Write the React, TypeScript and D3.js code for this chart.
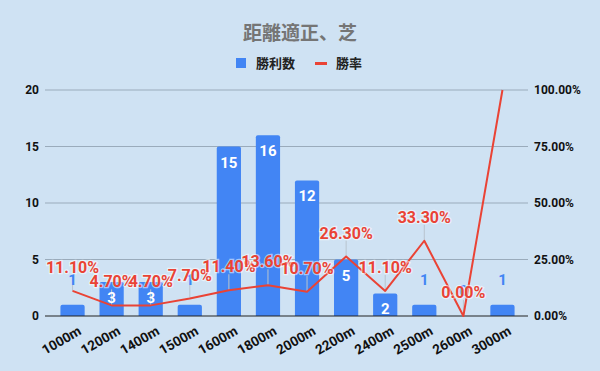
import * as d3 from 'd3';

const categories = ['1000m', '1200m', '1400m', '1500m', '1600m', '1800m', '2000m', '2200m', '2400m', '2500m', '2600m', '3000m'];
const wins = [1, 3, 3, 1, 15, 16, 12, 5, 2, 1, 0, 1];
const winRate = [11.1, 4.7, 4.7, 7.7, 11.4, 13.6, 10.7, 26.3, 11.1, 33.3, 0, 100];
const leftTicks = [0, 5, 10, 15, 20];
const rightTicks = [0, 25, 50, 75, 100];

const W = 600;
const H = 371;
const BLUE = '#4285f4';
const RED = '#ea4335';
const NUM_FONT = 'Roboto, "Noto Sans CJK JP", sans-serif';
const CJK_FONT = '"Noto Sans CJK JP", Roboto, sans-serif';

export default function App() {
  const x = d3
    .scaleBand<string>()
    .domain(categories)
    .range([53, 522])
    .paddingInner(0.38)
    .paddingOuter(0.19);
  const yL = d3.scaleLinear().domain([0, 20]).range([316, 90]);
  const yR = d3.scaleLinear().domain([0, 100]).range([316, 90]);
  const cx = (c: string) => (x(c) as number) + x.bandwidth() / 2;

  const line = d3
    .line<number>()
    .x((_, i) => cx(categories[i]))
    .y((d) => yR(d));

  // rounded top corners only
  const barPath = (c: string, v: number) => {
    const x0 = x(c) as number;
    const w = x.bandwidth();
    const top = yL(v);
    const bot = yL(0);
    const r = Math.min(2, (bot - top) / 2);
    const p = d3.path();
    p.moveTo(x0, bot);
    p.lineTo(x0, top + r);
    p.quadraticCurveTo(x0, top, x0 + r, top);
    p.lineTo(x0 + w - r, top);
    p.quadraticCurveTo(x0 + w, top, x0 + w, top + r);
    p.lineTo(x0 + w, bot);
    p.closePath();
    return p.toString();
  };

  return (
    <svg
      width={W}
      height={H}
      style={{ position: 'absolute', left: 0, top: 0, display: 'block' }}
    >
      <rect width={W} height={H} fill="#cfe2f3" />

      {/* title */}
      <text
        x={300}
        y={40}
        textAnchor="middle"
        fontFamily={CJK_FONT}
        fontWeight="bold"
        fontSize={19}
        fill="#757575"
      >
        距離適正、芝
      </text>

      {/* legend */}
      <rect x={236} y={58} width={10} height={10} fill={BLUE} />
      <text x={256} y={68} fontFamily={CJK_FONT} fontSize={13} fontWeight="bold" fill="#222">
        勝利数
      </text>
      <rect x={315} y={62} width={12} height={3} fill={RED} />
      <text x={336} y={68} fontFamily={CJK_FONT} fontSize={13} fontWeight="bold" fill="#222">
        勝率
      </text>

      {/* grid */}
      {leftTicks.slice(1).map((t) => (
        <line key={t} x1={45} x2={528} y1={yL(t)} y2={yL(t)} stroke="#9aabbb" strokeWidth={1} />
      ))}

      {/* left axis labels */}
      {leftTicks.map((t) => (
        <text
          key={t}
          x={39}
          y={yL(t)}
          dy="0.35em"
          textAnchor="end"
          fontFamily={NUM_FONT}
          fontWeight="bold"
          fontSize={12}
          fill="#111"
        >
          {t}
        </text>
      ))}

      {/* right axis labels */}
      {rightTicks.map((t) => (
        <text
          key={t}
          x={534}
          y={yR(t)}
          dy="0.35em"
          fontFamily={NUM_FONT}
          fontWeight="bold"
          fontSize={12}
          fill="#111"
        >
          {t.toFixed(2)}%
        </text>
      ))}

      {/* bars */}
      {categories.map((c, i) =>
        wins[i] > 0 ? <path key={c} d={barPath(c, wins[i])} fill={BLUE} /> : null
      )}

      {/* baseline */}
      <line x1={45} x2={528} y1={yL(0)} y2={yL(0)} stroke="#222" strokeWidth={1.2} />

      {/* leader lines for rate labels */}
      {categories.map((c, i) =>
        winRate[i] < 100 ? (
          <line
            key={c}
            x1={cx(c)}
            x2={cx(c)}
            y1={yR(winRate[i]) - 16}
            y2={yR(winRate[i])}
            stroke="#b8c4ce"
            strokeWidth={1}
          />
        ) : null
      )}

      {/* bar labels */}
      {categories.map((c, i) => {
        const v = wins[i];
        const inside = v >= 2;
        return (
          <text
            key={c}
            x={cx(c)}
            y={inside ? yL(v) + 21 : yL(v) - 20}
            textAnchor="middle"
            fontFamily={NUM_FONT}
            fontWeight="bold"
            fontSize={15}
            fill={inside ? '#fff' : BLUE}
          >
            {v}
          </text>
        );
      })}

      {/* win rate line */}
      <path d={line(winRate) as string} fill="none" stroke={RED} strokeWidth={2} strokeLinejoin="round" />

      {/* rate labels */}
      {categories.map((c, i) =>
        winRate[i] < 100 ? (
          <text
            key={c}
            x={cx(c)}
            y={yR(winRate[i]) - 18}
            textAnchor="middle"
            fontFamily={NUM_FONT}
            fontWeight="bold"
            fontSize={16}
            fill={RED}
            stroke="rgba(255,255,255,0.55)"
            strokeWidth={2.5}
            paintOrder="stroke"
          >
            {winRate[i].toFixed(2)}%
          </text>
        ) : null
      )}

      {/* x axis labels */}
      {categories.map((c) => (
        <text
          key={c}
          transform={`translate(${cx(c) + 7},${yL(0) + 13}) rotate(-30)`}
          textAnchor="end"
          dy="0.4em"
          fontFamily={NUM_FONT}
          fontWeight="bold"
          fontSize={13.5}
          fill="#111"
        >
          {c}
        </text>
      ))}
    </svg>
  );
}
